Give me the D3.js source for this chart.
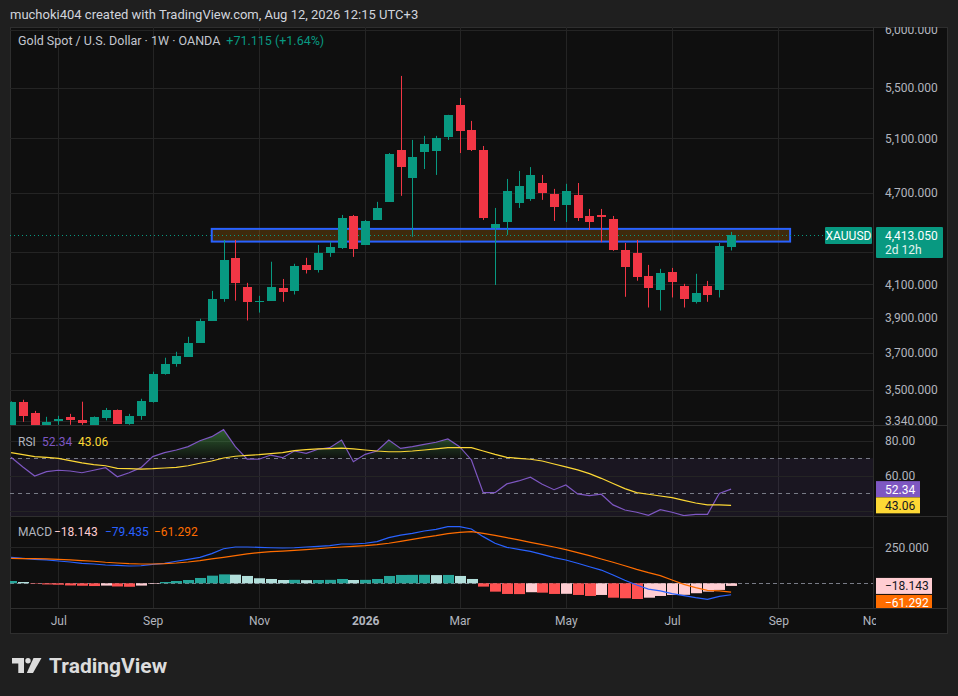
<!DOCTYPE html>
<html>
<head>
<meta charset="utf-8">
<script src="https://cdn.jsdelivr.net/npm/d3@7"></script>
<style>
  html, body { margin: 0; padding: 0; background: #1f1f1f; }
  svg { display: block; font-family: Roboto, "Noto Sans", sans-serif; }
</style>
</head>
<body>
<div id="chart"></div>
<script>
// weekly bars, the first one is the week of 9 Jun 2025
const firstBar = "2025-06-09";

const opens  = [3320, 3438, 3381, 3321, 3338, 3361, 3346, 3321, 3357, 3396, 3327, 3363, 3438, 3585, 3639, 3677,
                3755, 3882, 4011, 4265, 4083, 3996, 3999, 4077, 4061, 4220, 4189, 4297, 4329, 4541, 4348, 4514,
                4638, 5013, 4807, 4998, 5005, 5113, 5363, 5166, 5013, 4460, 4500, 4631, 4659, 4771, 4694, 4617,
                4687, 4541, 4548, 4520, 4316, 4297, 4152, 4067, 4176, 4089, 3989, 4089, 4067, 4335];
const highs  = [3440, 3448, 3391, 3361, 3366, 3376, 3438, 3363, 3406, 3398, 3376, 3453, 3596, 3672, 3705, 3789,
                3893, 4059, 4381, 4381, 4108, 4029, 4240, 4132, 4227, 4265, 4348, 4368, 4548, 4548, 4514, 4638,
                4990, 5601, 5089, 5120, 5120, 5284, 5419, 5236, 5043, 4596, 4800, 4858, 4886, 4829, 4729, 4765,
                4771, 4589, 4589, 4541, 4361, 4381, 4220, 4195, 4201, 4102, 4164, 4120, 4361, 4434];
const lows   = [3300, 3336, 3318, 3318, 3321, 3321, 3321, 3318, 3343, 3325, 3321, 3346, 3433, 3580, 3623, 3677,
                3755, 3882, 3993, 4000, 3883, 3929, 3999, 3993, 4037, 4166, 4172, 4271, 4322, 4271, 4348, 4514,
                4638, 4680, 4401, 4872, 4829, 5089, 4990, 5005, 4514, 4095, 4414, 4596, 4645, 4652, 4507, 4500,
                4507, 4447, 4366, 4310, 4023, 4121, 3959, 3941, 4019, 3959, 3983, 3993, 4019, 4312];
const closes = [3434, 3363, 3321, 3336, 3351, 3343, 3331, 3361, 3396, 3327, 3366, 3443, 3585, 3639, 3683, 3755,
                3882, 4011, 4252, 4110, 3993, 3999, 4083, 4055, 4214, 4191, 4297, 4335, 4527, 4322, 4507, 4596,
                4983, 4886, 4961, 5058, 5105, 5284, 5158, 5013, 4527, 4487, 4715, 4750, 4829, 4701, 4603, 4715,
                4527, 4500, 4531, 4316, 4208, 4147, 4079, 4170, 4115, 4011, 4047, 4035, 4341.935, 4413.05];

// RSI(14) and its moving average
const rsiValues = [70.5, 65.0, 59.8, 62.3, 63.1, 62.7, 61.7, 63.1, 64.6, 59.4, 61.7, 64.6, 70.9, 73.2, 74.7, 76.6,
                   80.0, 82.3, 86.3, 76.6, 69.5, 69.4, 71.8, 70.3, 74.1, 72.8, 75.1, 76.0, 80.4, 68.0, 72.2, 74.1,
                   80.4, 75.6, 76.6, 77.9, 79.1, 81.0, 76.6, 69.0, 50.3, 50.3, 55.3, 57.0, 59.1, 55.1, 52.0, 54.7,
                   49.6, 48.6, 49.4, 43.3, 40.4, 39.1, 37.4, 40.6, 39.1, 37.2, 37.9, 37.9, 49.9, 52.34];
const rsiMa     = [73.2, 72.0, 70.9, 70.5, 69.9, 68.6, 67.3, 66.3, 65.7, 64.2, 64.0, 63.8, 64.0, 64.4, 64.8, 65.7,
                   67.1, 68.4, 70.1, 71.1, 71.6, 72.0, 72.6, 73.2, 74.3, 74.9, 75.3, 75.5, 75.8, 75.3, 74.7, 74.1,
                   73.7, 73.7, 74.1, 74.7, 75.3, 76.0, 76.0, 76.0, 74.1, 72.2, 70.5, 69.9, 69.4, 68.4, 66.7, 65.0,
                   63.3, 61.2, 58.5, 55.5, 52.6, 50.3, 49.4, 48.4, 47.5, 45.9, 44.4, 43.3, 43.3, 43.06];

// MACD(12,26,9)
const macdLine   = [180, 173, 166, 162, 155, 148, 139, 134, 127, 125, 120, 122, 132, 139, 153, 166,
                    180, 206, 240, 252, 252, 250, 247, 245, 247, 252, 257, 261, 273, 273, 278, 289,
                    317, 335, 347, 363, 375, 393, 393, 377, 324, 278, 250, 236, 222, 201, 178, 162,
                    139, 115, 92, 58, 21, -12, -40, -53, -72, -86, -100, -111, -91, -79.435];
const signalLine = [173, 171, 171, 169, 166, 162, 157, 153, 146, 141, 136, 134, 134, 136, 141, 148,
                    157, 169, 180, 192, 204, 213, 220, 224, 229, 234, 240, 247, 252, 257, 261, 268,
                    278, 291, 305, 319, 331, 345, 354, 359, 347, 333, 317, 301, 284, 268, 252, 234,
                    213, 192, 169, 146, 122, 97, 74, 53, 23, -7, -30, -49, -53, -61.292];
const macdHist   = [16, 9, -3, -8, -10, -15, -17, -19, -16, -22, -24, -16, -4, 9, 16, 23,
                    37, 53, 62, 60, 51, 35, 30, 23, 24, 22, 23, 24, 30, 23, 24, 30,
                    51, 58, 58.5, 59, 57, 58, 51, 30, -23, -58, -74, -75, -62, -65, -74, -73,
                    -81, -88, -81, -100, -104, -109, -100, -88, -81, -80, -69, -58, -46, -18.143];

// grid levels; the ones hidden behind the value tags get no label
const priceGrid = [6000, 5500, 5100, 4700, 4300, 4100, 3900, 3700, 3500, 3340];
const priceLabels = [6000, 5500, 5100, 4700, 4100, 3900, 3700, 3500, 3340];
const rsiGrid = [80, 60, 40];
const rsiLabels = [80, 60];
const rsiBands = [70, 50];
const macdTicks = [250];
const monthTicks = ["2025-07-07", "2025-09-01", "2025-11-03", "2026-01-05", "2026-03-02",
                    "2026-05-04", "2026-07-06", "2026-09-07", "2026-11-02"];
const monthLabels = ["Jul", "Sep", "Nov", "2026", "Mar", "May", "Jul", "Sep", "Nov"];

// the drawn zone (rectangle tool)
const zoneDates = ["2025-10-06", "2026-09-14"];
const zonePrices = [4370, 4454];

const upColor = "#089981", downColor = "#f23645";
const gridColor = "#242424", lineColor = "#2e2e2e", textColor = "#b2b5be";

const width = 958, height = 696;
const plotLeft = 10, plotRight = 873, frameRight = 948;
const paneTop = 27, priceBottom = 425, rsiTop = 426, rsiBottom = 516, macdTop = 517, macdBottom = 608, frameBottom = 634;

const parse = d3.utcParse("%Y-%m-%d");
const start = parse(firstBar);
const bars = opens.map((o, i) => ({
  date: d3.utcDay.offset(start, i * 7),
  open: o, high: highs[i], low: lows[i], close: closes[i],
  rsi: rsiValues[i], rsiMa: rsiMa[i],
  macd: macdLine[i], signal: signalLine[i], hist: macdHist[i]
}));

const x = d3.scaleUtc()
  .domain([parse("2025-07-07"), parse("2026-09-07")])
  .range([58.3, 778.3]);
const y = d3.scaleLog().domain([3340, 6000]).range([421, 30]);
const yRsi = d3.scaleLinear().domain([40, 80]).range([510.7, 440.7]);
const yMacd = d3.scaleLinear().domain([0, 250]).range([583.3, 547.3]);
const step = x(bars[1].date) - x(bars[0].date);

const svg = d3.select("#chart").append("svg")
  .attr("width", width)
  .attr("height", height);

const defs = svg.append("defs");
function clip(id, x0, y0, x1, y1) {
  defs.append("clipPath").attr("id", id)
    .append("rect").attr("x", x0).attr("y", y0).attr("width", x1 - x0).attr("height", y1 - y0);
  return `url(#${id})`;
}
const clipMain = clip("clip-main", plotLeft, paneTop, plotRight, priceBottom);
const clipRsi = clip("clip-rsi", plotLeft, rsiTop, plotRight, rsiBottom);
const clipMacd = clip("clip-macd", plotLeft, macdTop, plotRight, macdBottom);
const clipPriceAxis = clip("clip-paxis", plotRight, paneTop, frameRight, priceBottom);
const clipTime = clip("clip-time", plotLeft, macdBottom, plotRight + 3, frameBottom);
const clipOverbought = clip("clip-ob", plotLeft, rsiTop, plotRight, yRsi(70));
const clipGrid = clip("clip-grid", plotLeft, paneTop, plotRight, macdBottom);

function styleAxis(g) {
  g.select(".domain").remove();
  g.selectAll("text").attr("fill", textColor).attr("font-size", "12px").attr("font-family", "Roboto, sans-serif");
}

// header line
svg.append("text")
  .attr("x", 10).attr("y", 19)
  .attr("font-size", "13px").attr("fill", "#d1d4dc")
  .text("muchoki404 created with TradingView.com, Aug 12, 2026 12:15 UTC+3");

// chart frame
svg.append("rect")
  .attr("x", plotLeft + 0.5).attr("y", paneTop + 0.5)
  .attr("width", frameRight - plotLeft - 1).attr("height", frameBottom - paneTop - 1)
  .attr("fill", "#0f0f0f").attr("stroke", lineColor);

// vertical grid through all panes
svg.append("g").attr("clip-path", clipGrid)
  .selectAll("line")
  .data(monthTicks.map(parse))
  .join("line")
  .attr("x1", d => Math.round(x(d)) + 0.5).attr("x2", d => Math.round(x(d)) + 0.5)
  .attr("y1", paneTop).attr("y2", macdBottom)
  .attr("stroke", gridColor);

// ---------- price pane ----------
const gMain = svg.append("g").attr("clip-path", clipMain);

gMain.append("g").selectAll("line")
  .data(priceGrid)
  .join("line")
  .attr("x1", plotLeft).attr("x2", plotRight)
  .attr("y1", d => Math.round(y(d)) + 0.5).attr("y2", d => Math.round(y(d)) + 0.5)
  .attr("stroke", gridColor);

// zone rectangle
const zx0 = x(parse(zoneDates[0])), zx1 = x(parse(zoneDates[1]));
gMain.append("rect")
  .attr("x", zx0).attr("y", y(zonePrices[1]))
  .attr("width", zx1 - zx0).attr("height", y(zonePrices[0]) - y(zonePrices[1]))
  .attr("fill", "rgba(255,152,0,0.2)")
  .attr("stroke", "#2962ff").attr("stroke-width", 2);

// last price line
const last = bars[bars.length - 1], prev = bars[bars.length - 2];
gMain.append("line")
  .attr("x1", plotLeft).attr("x2", 825)
  .attr("y1", Math.round(y(last.close)) + 0.5).attr("y2", Math.round(y(last.close)) + 0.5)
  .attr("stroke", upColor).attr("stroke-dasharray", "1,3");

// candles
const candle = gMain.append("g").selectAll("g")
  .data(bars)
  .join("g")
  .attr("fill", d => d.close >= d.open ? upColor : downColor)
  .attr("stroke", d => d.close >= d.open ? upColor : downColor);

candle.append("line")
  .attr("x1", d => Math.round(x(d.date)) + 0.5)
  .attr("x2", d => Math.round(x(d.date)) + 0.5)
  .attr("y1", d => y(d.high))
  .attr("y2", d => y(d.low));

candle.append("rect")
  .attr("stroke", "none")
  .attr("x", d => Math.round(x(d.date)) - 4)
  .attr("width", 9)
  .attr("y", d => Math.round(y(Math.max(d.open, d.close))))
  .attr("height", d => Math.max(1, Math.round(y(Math.min(d.open, d.close))) - Math.round(y(Math.max(d.open, d.close)))));

// legend
const change = Math.round((last.close - prev.close) * 1000) / 1000;
const legend = svg.append("text")
  .attr("x", 18).attr("y", 45)
  .attr("font-size", "12.5px").attr("fill", "#c3c6ce");
legend.append("tspan").text("Gold Spot / U.S. Dollar · 1W · OANDA");
legend.append("tspan").attr("dx", 6).attr("fill", upColor)
  .text(`${d3.format("+.3f")(change)} (${d3.format("+.2%")(change / prev.close)})`);

// symbol tag on the price line
svg.append("rect")
  .attr("x", 825).attr("y", y(last.close) - 8)
  .attr("width", 47).attr("height", 17).attr("rx", 1)
  .attr("fill", upColor);
svg.append("text")
  .attr("x", 848.5).attr("y", y(last.close) + 4.5)
  .attr("text-anchor", "middle").attr("font-size", "12px").attr("fill", "#ffffff")
  .text("XAUUSD");

// price axis (clip on a wrapper so the clip stays in page coordinates)
svg.append("g").attr("clip-path", clipPriceAxis)
  .append("g")
  .attr("transform", `translate(${plotRight},0)`)
  .call(d3.axisRight(y).tickValues(priceLabels).tickFormat(d3.format(",.3f")).tickSize(0).tickPadding(12))
  .call(styleAxis);

// last price tag
svg.append("rect")
  .attr("x", 876).attr("y", y(last.close) - 8)
  .attr("width", 67).attr("height", 31).attr("rx", 1)
  .attr("fill", upColor);
svg.append("text")
  .attr("x", 885).attr("y", y(last.close) + 4.5)
  .attr("font-size", "12px").attr("fill", "#ffffff")
  .text(d3.format(",.3f")(last.close));
svg.append("text")
  .attr("x", 885).attr("y", y(last.close) + 19)
  .attr("font-size", "12px").attr("fill", "#e3f4f0")
  .text("2d 12h");

// ---------- RSI pane ----------
const gRsi = svg.append("g").attr("clip-path", clipRsi);

gRsi.append("rect")
  .attr("x", plotLeft).attr("width", plotRight - plotLeft)
  .attr("y", yRsi(70)).attr("height", yRsi(30) - yRsi(70))
  .attr("fill", "rgba(126,87,194,0.1)");

gRsi.append("g").selectAll("line")
  .data(rsiGrid)
  .join("line")
  .attr("x1", plotLeft).attr("x2", plotRight)
  .attr("y1", d => Math.round(yRsi(d)) + 0.5).attr("y2", d => Math.round(yRsi(d)) + 0.5)
  .attr("stroke", gridColor);

gRsi.append("g").selectAll("line")
  .data(rsiBands)
  .join("line")
  .attr("x1", plotLeft).attr("x2", plotRight)
  .attr("y1", d => Math.round(yRsi(d)) + 0.5).attr("y2", d => Math.round(yRsi(d)) + 0.5)
  .attr("stroke", "#787b86").attr("stroke-dasharray", "4,4");

const obGrad = defs.append("linearGradient")
  .attr("id", "ob-grad").attr("gradientUnits", "userSpaceOnUse")
  .attr("x1", 0).attr("x2", 0).attr("y1", yRsi(100)).attr("y2", yRsi(70));
obGrad.append("stop").attr("offset", 0).attr("stop-color", "#4caf50").attr("stop-opacity", 0.9);
obGrad.append("stop").attr("offset", 1).attr("stop-color", "#4caf50").attr("stop-opacity", 0.02);

gRsi.append("g").attr("clip-path", clipOverbought)
  .append("path")
  .datum(bars)
  .attr("fill", "url(#ob-grad)")
  .attr("d", d3.area().x(d => x(d.date)).y0(yRsi(70)).y1(d => yRsi(d.rsi)));

gRsi.append("path")
  .datum(bars)
  .attr("fill", "none").attr("stroke", "#7e57c2").attr("stroke-width", 1.2)
  .attr("d", d3.line().x(d => x(d.date)).y(d => yRsi(d.rsi)));

gRsi.append("path")
  .datum(bars)
  .attr("fill", "none").attr("stroke", "#fdd835").attr("stroke-width", 1.2)
  .attr("d", d3.line().x(d => x(d.date)).y(d => yRsi(d.rsiMa)));

const rsiLegend = svg.append("g").attr("font-size", "12px");
rsiLegend.append("text").attr("x", 18).attr("y", 445.5).attr("fill", textColor).text("RSI");
rsiLegend.append("text").attr("x", 42).attr("y", 445.5).attr("fill", "#7e57c2").text(d3.format(".2f")(last.rsi));
rsiLegend.append("text").attr("x", 78).attr("y", 445.5).attr("fill", "#fdd835").text(d3.format(".2f")(last.rsiMa));

svg.append("g")
  .attr("transform", `translate(${plotRight},0)`)
  .call(d3.axisRight(yRsi).tickValues(rsiLabels).tickFormat(d3.format(".2f")).tickSize(0).tickPadding(12))
  .call(styleAxis);

svg.append("rect")
  .attr("x", 876).attr("y", yRsi(last.rsi) - 8).attr("width", 44).attr("height", 16)
  .attr("fill", "#7e57c2");
svg.append("text")
  .attr("x", 885).attr("y", yRsi(last.rsi) + 4.5).attr("font-size", "12px").attr("fill", "#ffffff")
  .text(d3.format(".2f")(last.rsi));
svg.append("rect")
  .attr("x", 876).attr("y", yRsi(last.rsiMa) - 8).attr("width", 44).attr("height", 16)
  .attr("fill", "#fdd835");
svg.append("text")
  .attr("x", 885).attr("y", yRsi(last.rsiMa) + 4.5).attr("font-size", "12px").attr("fill", "#131722")
  .text(d3.format(".2f")(last.rsiMa));

// ---------- MACD pane ----------
const gMacd = svg.append("g").attr("clip-path", clipMacd);

gMacd.append("g").selectAll("line")
  .data(macdTicks)
  .join("line")
  .attr("x1", plotLeft).attr("x2", plotRight)
  .attr("y1", d => Math.round(yMacd(d)) + 0.5).attr("y2", d => Math.round(yMacd(d)) + 0.5)
  .attr("stroke", gridColor);

gMacd.append("line")
  .attr("x1", plotLeft).attr("x2", plotRight)
  .attr("y1", Math.round(yMacd(0)) + 0.5).attr("y2", Math.round(yMacd(0)) + 0.5)
  .attr("stroke", "#787b86").attr("stroke-dasharray", "4,3");

function histColor(d, i) {
  const p = i > 0 ? bars[i - 1].hist : 0;
  if (d.hist >= 0) return d.hist > p ? "#26a69a" : "#b2dfdb";
  return d.hist < p ? "#ff5252" : "#ffcdd2";
}

gMacd.append("g").selectAll("rect")
  .data(bars)
  .join("rect")
  .attr("x", d => Math.round(x(d.date) - step / 2) + 1)
  .attr("width", Math.round(step) - 1)
  .attr("y", d => yMacd(Math.max(0, d.hist)))
  .attr("height", d => Math.abs(yMacd(d.hist) - yMacd(0)))
  .attr("fill", histColor);

gMacd.append("path")
  .datum(bars)
  .attr("fill", "none").attr("stroke", "#2962ff").attr("stroke-width", 1.2)
  .attr("d", d3.line().x(d => x(d.date)).y(d => yMacd(d.macd)));

gMacd.append("path")
  .datum(bars)
  .attr("fill", "none").attr("stroke", "#ff6d00").attr("stroke-width", 1.2)
  .attr("d", d3.line().x(d => x(d.date)).y(d => yMacd(d.signal)));

const macdLegend = svg.append("g").attr("font-size", "12px");
macdLegend.append("text").attr("x", 18).attr("y", 536).attr("fill", textColor).text("MACD");
macdLegend.append("text").attr("x", 54).attr("y", 536).attr("fill", "#ffcdd2").text(d3.format(".3f")(last.hist));
macdLegend.append("text").attr("x", 105).attr("y", 536).attr("fill", "#2962ff").text(d3.format(".3f")(last.macd));
macdLegend.append("text").attr("x", 154).attr("y", 536).attr("fill", "#ff6d00").text(d3.format(".3f")(last.signal));

svg.append("g")
  .attr("transform", `translate(${plotRight},0)`)
  .call(d3.axisRight(yMacd).tickValues(macdTicks).tickFormat(d3.format(".3f")).tickSize(0).tickPadding(12))
  .call(styleAxis);

const histTagY = yMacd(last.hist) - 8;
svg.append("rect")
  .attr("x", 876).attr("y", histTagY).attr("width", 56).attr("height", 16)
  .attr("fill", "#ffcdd2");
svg.append("text")
  .attr("x", 885).attr("y", histTagY + 12.5).attr("font-size", "12px").attr("fill", "#131722")
  .text(d3.format(".3f")(last.hist));
svg.append("rect")
  .attr("x", 876).attr("y", histTagY + 17).attr("width", 56).attr("height", 14)
  .attr("fill", "#ff6d00");
svg.append("text")
  .attr("x", 885).attr("y", histTagY + 29.5).attr("font-size", "12px").attr("fill", "#ffffff")
  .text(d3.format(".3f")(last.signal));

// ---------- separators & time axis ----------
svg.append("g").selectAll("line")
  .data([priceBottom, rsiBottom, macdBottom])
  .join("line")
  .attr("x1", plotLeft).attr("x2", frameRight)
  .attr("y1", d => d + 0.5).attr("y2", d => d + 0.5)
  .attr("stroke", lineColor);
svg.append("line")
  .attr("x1", plotRight + 0.5).attr("x2", plotRight + 0.5)
  .attr("y1", paneTop).attr("y2", macdBottom)
  .attr("stroke", lineColor);

svg.append("g").attr("clip-path", clipTime)
  .append("g")
  .attr("transform", `translate(0,${macdBottom})`)
  .call(d3.axisBottom(x).tickValues(monthTicks.map(parse)).tickFormat((d, i) => monthLabels[i]).tickSize(0).tickPadding(8))
  .call(styleAxis)
  .selectAll("text")
  .attr("font-weight", (d, i) => /^\d{4}$/.test(monthLabels[i]) ? "bold" : null);

// TradingView logo
const logo = svg.append("g").attr("fill", "#dcdcdc");
logo.append("path").attr("d", "M12,658 H24 V673 H18.3 V663.4 H12 Z");
logo.append("circle").attr("cx", 28).attr("cy", 660.8).attr("r", 2.7);
logo.append("path").attr("d", "M33.5,658 H41.5 L33,673 H26.8 Z");
logo.append("text")
  .attr("x", 49).attr("y", 673)
  .attr("font-size", "21px").attr("font-weight", "bold")
  .text("TradingView");
</script>
</body>
</html>
